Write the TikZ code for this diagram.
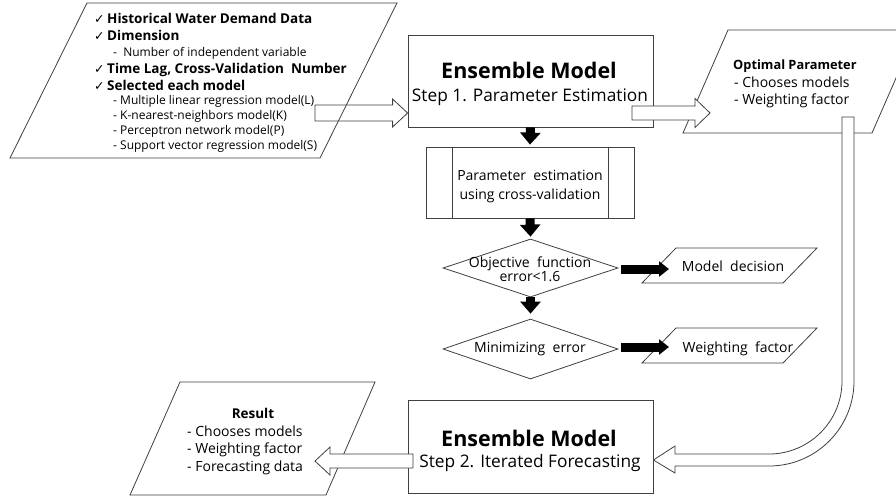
\documentclass[tikz,border=0pt]{standalone}
\usepackage{fontspec}
\setmainfont{Open Sans}
\newfontfamily\symfont{DejaVu Sans}
\usetikzlibrary{arrows.meta,calc,shapes.geometric}
\begin{document}
\begin{tikzpicture}[x=1pt,y=-1pt,
  outline/.style={draw=black!75, line width=0.8pt},
  hollowarrow/.style={draw=black!75, line width=0.8pt, fill=white},
  openarrow/.style={draw=black!75, line width=0.8pt},
  blkv/.style={line width=9pt, -{Triangle[length=12pt,width=20pt]}},
  blkh/.style={line width=9pt, -{Triangle[length=10pt,width=15pt]}},
  lt/.style={inner sep=0pt, anchor=base west},
  ct/.style={inner sep=0pt, anchor=base},
  big/.style={font=\fontsize{21.5}{23}\selectfont\bfseries},
  steptxt/.style={font=\fontsize{17.3}{19}\selectfont},
  hd/.style={font=\fontsize{13.5}{15}\selectfont\bfseries},
  hdsmall/.style={font=\fontsize{12.8}{14}\selectfont\bfseries},
  sub/.style={font=\fontsize{12}{14}\selectfont},
  mid/.style={font=\fontsize{14}{16}\selectfont},
  ck/.style={inner sep=0pt, anchor=base west, font=\fontsize{12.5}{14}\selectfont\symfont},
  boxnode/.style={draw=black!75, line width=0.8pt, rectangle, inner sep=0pt},
  dia/.style={draw=black!75, line width=0.8pt, diamond, inner sep=0pt, minimum width=175pt}
]
\useasboundingbox (0,0) rectangle (896,496);
\clip (0,0) rectangle (896,496);
\fill[white] (0,0) rectangle (896,496);

% ---------- input parallelogram ----------
\draw[outline] (87,3) -- (397,3) -- (320,158) -- (10,158) -- cycle;
\node[ck] (c1) at (94,23) {✓};
\node[lt,hd] (t1) at (107,23) {Historical Water Demand Data};
\node[ck] (c2) at (94,40) {✓};
\node[lt,hd] (t2) at (107,40) {Dimension};
\node[lt,sub] (t3) at (113,56.5) {-\ \ Number of independent variable};
\node[ck] (c4) at (94,73) {✓};
\node[lt,hd] (t4) at (107,73) {Time Lag, Cross-Validation\ \ Number};
\node[ck] (c5) at (94,90) {✓};
\node[lt,hd] (t5) at (107,90) {Selected each model};
\node[lt,sub] (t6) at (113,104.5) {- Multiple linear regression model(L)};
\node[lt,sub] (t7) at (113,119.5) {- K-nearest-neighbors model(K)};
\node[lt,sub] (t8) at (113,134.5) {- Perceptron network model(P)};
\node[lt,sub] (t9) at (113,149.5) {- Support vector regression model(S)};

% ---------- box 1 ----------
\node[boxnode, minimum width=245pt, minimum height=92pt] (box1) at (530.5,81) {};
\node[ct,big] (b1a) at (529,78) {Ensemble Model};
\node[ct,steptxt] (b1b) at (530,101) {Step 1. Parameter Estimation};

% ---------- optimal parameter parallelogram ----------
\draw[outline] (728,30) -- (917,30) -- (872,133) -- (683,133) -- cycle;
\node[lt,hdsmall] (o1) at (733,69) {Optimal Parameter};
\node[lt,mid] (o2) at (734,87) {- Chooses models};
\node[lt,mid] (o3) at (734,104) {- Weighting factor};

% ---------- process box ----------
\node[boxnode, minimum width=208pt, minimum height=71pt] (pe) at (530,182.5) {};
\draw[outline] (452,147) -- (452,218);
\draw[outline] (608,147) -- (608,218);
\node[ct,mid] (pe1) at (530,180) {Parameter\ \ estimation};
\node[ct,mid] (pe2) at (530,199) {using cross-validation};

% ---------- diamonds ----------
\node[dia, minimum height=58pt] (d1) at (530.5,268) {};
\node[ct,mid] (d1a) at (530,267) {Objective\ \ function};
\node[ct,mid] (d1b) at (530,281) {error<1.6};
\node[dia, minimum height=60pt] (d2) at (530.5,349) {};
\node[ct,mid] (d2a) at (530,352) {Minimizing\ \ error};

% ---------- output parallelograms ----------
\draw[outline] (676,248) -- (817,248) -- (783,283) -- (642,283) -- cycle;
\node[ct,mid] (md) at (733,271) {Model\ \ decision};
\draw[outline] (676,328) -- (817,328) -- (783,363) -- (642,363) -- cycle;
\node[ct,mid] (wf) at (738,352) {Weighting\ \ factor};

% ---------- box 2 ----------
\node[boxnode, minimum width=245pt, minimum height=93pt] (box2) at (530.5,446.5) {};
\node[ct,big] (b2a) at (529,446) {Ensemble Model};
\node[ct,steptxt] (b2b) at (530,467) {Step 2. Iterated Forecasting};

% ---------- result parallelogram ----------
\draw[outline] (180,382) -- (375,382) -- (326,495) -- (130,495) -- cycle;
\node[ct,hd] (r0) at (253,418) {Result};
\node[lt,mid] (r1) at (187,436) {- Chooses models};
\node[lt,mid] (r2) at (187,453) {- Weighting factor};
\node[lt,mid] (r3) at (187,471) {- Forecasting data};

% ---------- black arrows ----------
\draw[blkv] (box1.south) -- ($(pe.north)+(0,-2)$);
\draw[blkv] (pe.south) -- ($(d1.north)+(0,-2)$);
\draw[blkv] (d1.south) -- ($(d2.north)+(0,-5)$);
\draw[blkh] ($(d1.east)+(3,1)$) -- (669,269);
\draw[blkh] ($(d2.east)+(3,-2)$) -- (669,347);

% ---------- hollow arrows ----------
\coordinate (inA) at (315,113);
\coordinate (inB) at (box1.west |- inA);
\draw[openarrow] ($(inA)+(0,-8)$) -- ($(inB)+(-15,-8)$) -- ($(inB)+(-15,-14)$) -- (inB)
  -- ($(inB)+(-15,14)$) -- ($(inB)+(-15,8)$) -- ($(inA)+(0,8)$) -- cycle;

\coordinate (opA) at (632,113);
\coordinate (opB) at (710,113);
\draw[hollowarrow] ($(opA)+(0,-7)$) -- ($(opB)+(-15,-7)$) -- ($(opB)+(-15,-14.5)$) -- (opB)
  -- ($(opB)+(-15,14.5)$) -- ($(opB)+(-15,7)$) -- ($(opA)+(0,7)$) -- cycle;

\coordinate (rsA) at (413,461);
\coordinate (rsB) at (315,461);
\draw[hollowarrow] ($(rsA)+(0,-7)$) -- ($(rsB)+(15,-7)$) -- ($(rsB)+(15,-14)$) -- (rsB)
  -- ($(rsB)+(15,14)$) -- ($(rsB)+(15,7)$) -- ($(rsA)+(0,7)$) -- cycle;

% curved arrow from optimal parameter to box 2
\coordinate (cvB) at (box2.east |- 0,460);
\draw[hollowarrow] (842,117) -- (842,381) .. controls (842,421.3) and (809.3,454) .. (769,454)
  -- (675,454) -- (675,446) -- (cvB) -- (675,473) -- (675,466) -- (769,466)
  .. controls (816,466) and (854,428) .. (854,381) -- (854,117) -- cycle;
\end{tikzpicture}
\end{document}
